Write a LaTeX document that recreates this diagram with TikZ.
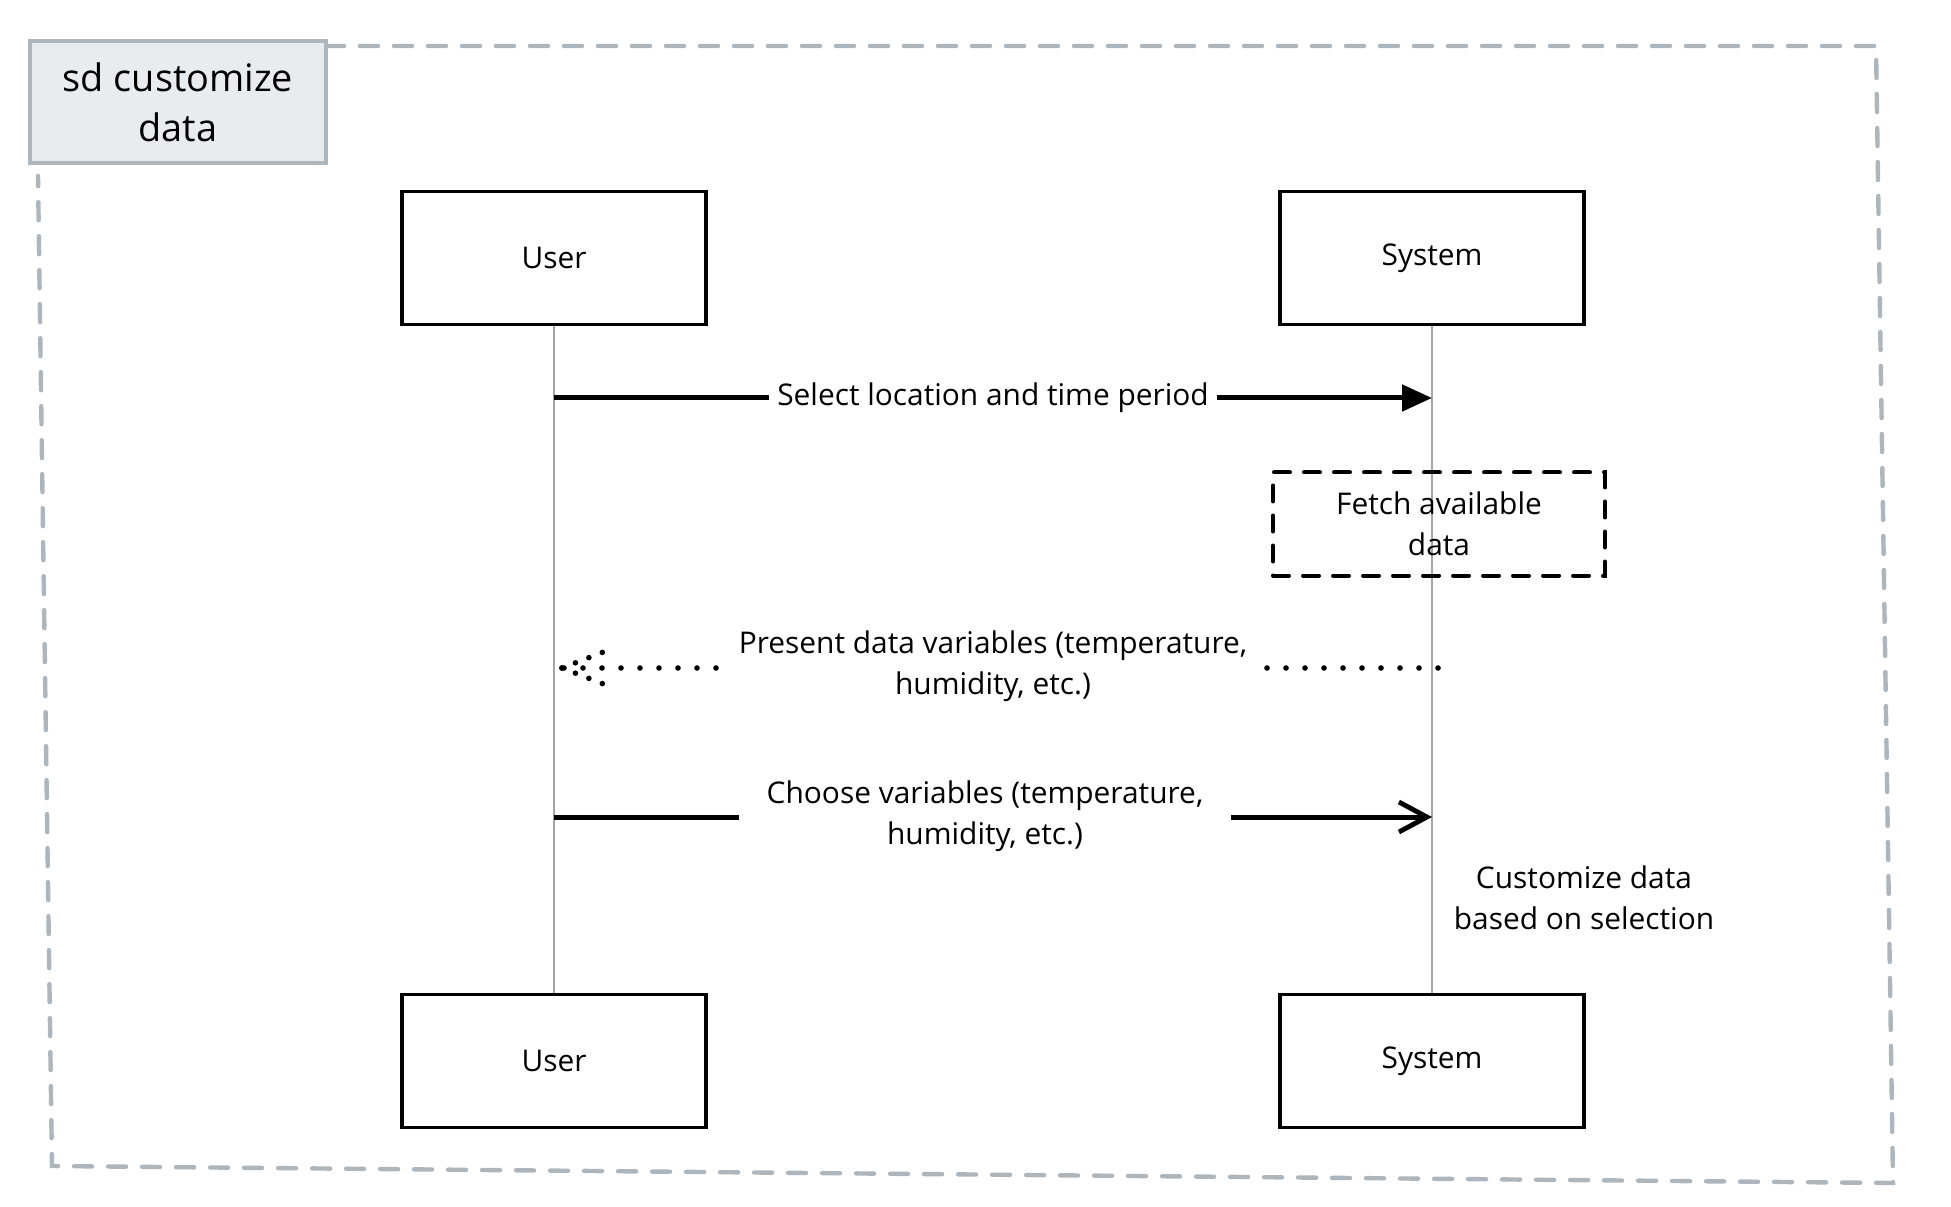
\documentclass[tikz,border=0pt]{standalone}
\usepackage{fontspec}
\setmainfont{Open Sans}
\usetikzlibrary{arrows.meta}
\definecolor{framegray}{HTML}{ADB5BD}
\definecolor{titlefill}{HTML}{E9ECEF}
\definecolor{lifegray}{HTML}{A5A5A5}
\begin{document}
\begin{tikzpicture}[x=0.5bp,y=-0.5bp,
  font=\fontsize{15}{20.5}\selectfont,
  actor/.style={draw=black, line width=1.6bp, minimum width=152bp, minimum height=66.5bp, inner sep=0pt},
  lifeline/.style={draw=lifegray, line width=1bp},
  msg/.style={line width=2.5bp},
  dotmsg/.style={line width=2.8bp, line cap=round, dash pattern=on 0bp off 9.5bp},
  dotbarb/.style={line width=2.8bp, line cap=round, dash pattern=on 0bp off 7.2bp},
  lbl/.style={fill=white, align=center, inner sep=4bp},
  framestyle/.style={draw=framegray, line width=2.2bp, line cap=round, dash pattern=on 9bp off 8bp},
  titlebox/.style={draw=framegray, fill=titlefill, line width=2.2bp, minimum width=148bp, minimum height=61bp, align=center, font=\fontsize{19}{25}\selectfont},
  actbox/.style={draw=black, line width=2bp, dash pattern=on 8bp off 7bp, line cap=round, minimum width=166bp, minimum height=51.5bp, align=center},
]
\useasboundingbox (0,0) rectangle (1951,1207);
% outer frame
\draw[framestyle] (326,46) -- (1876,46) -- (1893,1183) -- (52,1166) -- (38,176);
% title
\node[titlebox] (title) at (178,102) {sd customize\\data};
% actors
\node[actor] (u1) at (554,258) {User};
\node[actor] (s1) at (1432,258) {System};
\node[actor] (u2) at (554,1061) {User};
\node[actor] (s2) at (1432,1061) {System};
% lifelines
\draw[lifeline] (u1.south) -- (u2.north);
\draw[lifeline] (s1.south) -- (s2.north);
% message 1
\coordinate (m1a) at (554,398);
\coordinate (m1b) at (1432,398);
\draw[msg, -{Triangle[length=15bp,width=13bp]}] (m1a) -- (m1b);
\node[lbl] (l1) at (993,398) {Select location and time period};
% activity
\node[actbox] (fetch) at (1439,524) {Fetch available\\data};
% message 2
\coordinate (m2a) at (1438,668);
\coordinate (m2b) at (562,668);
\draw[dotmsg] (m2a) -- (m2b);
\draw[dotbarb] (m2b) -- ++(44,-17);
\draw[dotbarb] (m2b) -- ++(44,17);
\node[lbl] (l2) at (993,666) {Present data variables (temperature,\\humidity, etc.)};
% message 3
\coordinate (m3a) at (554,817);
\coordinate (m3b) at (1432,817);
\draw[msg, -{Straight Barb[length=14bp,width=15bp,line width=2.4bp]}] (m3a) -- (m3b);
\node[lbl, inner xsep=14bp] (l3) at (985,816) {Choose variables (temperature,\\humidity, etc.)};
% note
\node[align=center] (note) at (1584,898) {Customize data\\based on selection};
\end{tikzpicture}
\end{document}
